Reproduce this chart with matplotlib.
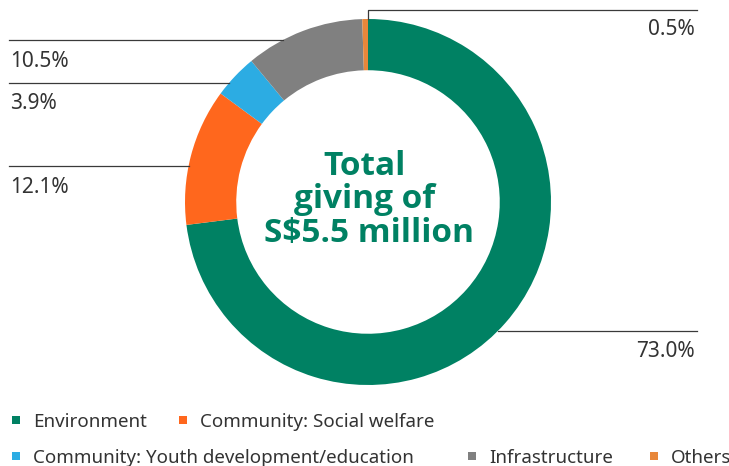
import matplotlib
matplotlib.use('Agg')
import numpy as np
import matplotlib.pyplot as plt
from matplotlib import font_manager
from matplotlib.patches import Rectangle

plt.rcParams['font.family'] = ['Noto Sans', 'DejaVu Sans']

# giving by category, clockwise from 12 o'clock
categories = ['Environment', 'Community: Social welfare',
              'Community: Youth development/education', 'Infrastructure', 'Others']
shares = [73.0, 12.1, 3.9, 10.5, 0.5]
colors = ['#008163', '#FF671D', '#2CACE3', '#808080', '#E8873A']
centre_lines = ['Total', 'giving of', 'S$5.5 million']

W, H = 729, 466
cx, cy, R = 368, 202, 183
ring = 0.28
line_col = '#3a3a3a'
text_col = '#333333'
green = '#008163'


def bold_family():
    # first family that actually ships a bold face
    have = {(f.name, f.weight) for f in font_manager.fontManager.ttflist}
    for fam in ['Noto Sans', 'Open Sans', 'Lato', 'Roboto', 'Liberation Sans']:
        for w in (700, 'bold'):
            if (fam, w) in have:
                return fam
    return 'DejaVu Sans'


def fy(y):
    # pixel row (top-down) -> axes y (bottom-up)
    return H - y


fig = plt.figure(figsize=(W / 100, H / 100), dpi=100)
ax = fig.add_axes([0, 0, 1, 1])

ax.pie(shares, colors=colors, startangle=90, counterclock=False,
       center=(cx, fy(cy)), radius=R,
       wedgeprops=dict(width=R * ring, linewidth=0))
ax.set_xlim(0, W)
ax.set_ylim(0, H)
ax.set_aspect('equal')
ax.axis('off')

# labels on the left: leader line at y, text baseline below it
left_labels = [(3, 40, 67), (2, 83, 109), (1, 166, 193)]
for idx, ly, base in left_labels:
    x_end = cx - np.sqrt(R ** 2 - (ly - cy) ** 2)
    ax.plot([9, x_end], [fy(ly), fy(ly)], color=line_col, lw=0.9)
    ax.text(10, fy(base), f'{shares[idx]:.1f}%', fontsize=15, color=text_col,
            ha='left', va='baseline')

# environment, bottom right
ly = 331
x_start = cx + np.sqrt(R ** 2 - (ly - cy) ** 2)
ax.plot([x_start, 697], [fy(ly), fy(ly)], color=line_col, lw=0.9)
ax.text(695, fy(357), f'{shares[0]:.1f}%', fontsize=15, color=text_col,
        ha='right', va='baseline')

# others, thin slice at the top
ax.plot([368.5, 368.5, 697], [fy(cy - R), fy(9.5), fy(9.5)], color=line_col, lw=0.9)
ax.text(695, fy(35), f'{shares[4]:.1f}%', fontsize=15, color=text_col,
        ha='right', va='baseline')

# centre caption
bf = bold_family()
for txt, xc, base in zip(centre_lines, [365, 365, 369], [175, 208.5, 242]):
    ax.text(xc, fy(base), txt, fontsize=24, fontweight='bold', family=bf,
            color=green, ha='center', va='baseline')

# legend, two rows
legend_pos = [(12, 427), (179, 427), (12, 463), (468, 463), (650, 463)]
for (lx, base), name, col in zip(legend_pos, categories, colors):
    ax.add_patch(Rectangle((lx, fy(base - 3)), 8, 8, color=col, lw=0))
    ax.text(lx + 21, fy(base), name, fontsize=13.5, color=text_col,
            ha='left', va='baseline')

fig.savefig('out.png', dpi=100)
